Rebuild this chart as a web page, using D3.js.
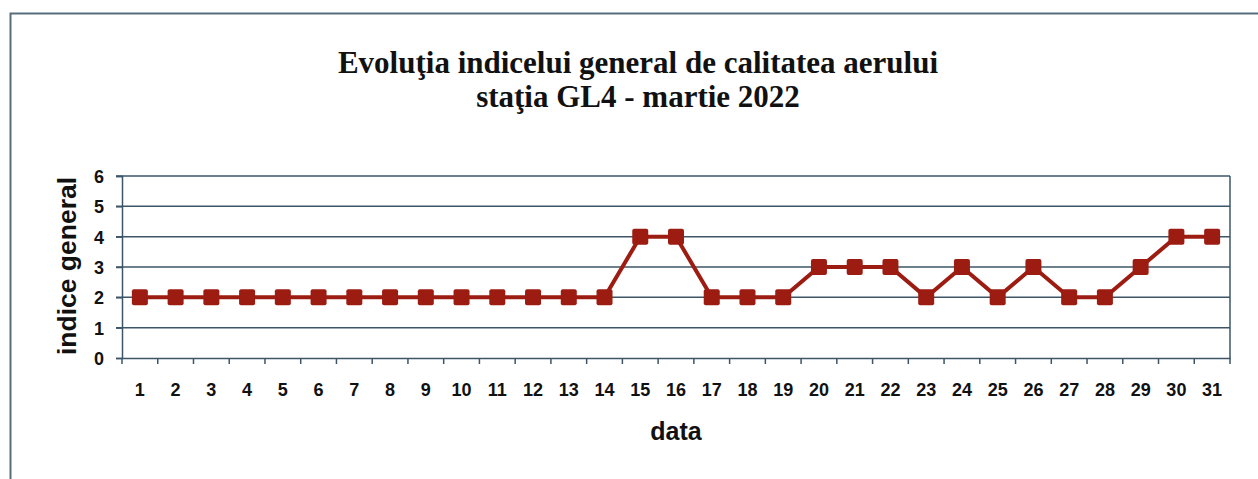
<!DOCTYPE html>
<html>
<head>
<meta charset="utf-8">
<script src="https://cdn.jsdelivr.net/npm/d3@7"></script>
<style>
  body { margin: 0; background: #fff; }
  svg { display: block; }
</style>
</head>
<body>
<svg id="chart"></svg>
<script>
// date ale graficului
var days = d3.range(1, 32).map(String);
var indice = [2, 2, 2, 2, 2, 2, 2, 2, 2, 2, 2, 2, 2, 2, 4, 4, 2, 2, 2, 3, 3, 3, 2, 3, 2, 3, 2, 2, 3, 4, 4];
var yTicks = [0, 1, 2, 3, 4, 5, 6];

var width = 1258, height = 479;
var margin = {left: 122, right: 28, top: 176, bottom: 121};
var gridColor = "#3c5668";

var svg = d3.select('#chart')
    .attr("width", width)
    .attr("height", height);

// cadru exterior
svg.append('path')
    .attr("d", "M10.5," + height + "V13.5H" + width)
    .attr("fill", "none")
    .attr("stroke", "#566d7c")
    .attr("stroke-width", 2);

var x = d3.scaleBand()
    .domain(days)
    .range([margin.left, width - margin.right]);

var y = d3.scaleLinear()
    .domain([0, 6])
    .range([height - margin.bottom, margin.top]);

// titlu
var title = svg.append('text')
    .attr("text-anchor", "middle")
    .attr("font-family", "'Liberation Serif', 'Times New Roman', serif")
    .attr("font-weight", "bold")
    .attr("font-size", 31)
    .attr("fill", "#111");
title.append('tspan').attr("x", 638).attr("y", 73)
    .text("Evoluţia indicelui general de calitatea aerului");
title.append('tspan').attr("x", 638).attr("y", 107)
    .text("staţia GL4 - martie 2022");

// linii de grila
svg.append('g')
    .selectAll('line')
    .data(yTicks.filter(function(d) { return d > 0; }))
    .enter()
    .append('line')
    .attr("x1", margin.left - 6)
    .attr("x2", width - margin.right)
    .attr("y1", function(d) { return y(d); })
    .attr("y2", function(d) { return y(d); })
    .attr("stroke", gridColor)
    .attr("stroke-width", 1.5);

// latura dreapta a zonei graficului
svg.append('line')
    .attr("x1", width - margin.right).attr("x2", width - margin.right)
    .attr("y1", y(6)).attr("y2", y(0))
    .attr("stroke", gridColor)
    .attr("stroke-width", 1.5);

// axa Y
var yAxis = svg.append('g')
    .attr("transform", "translate(" + margin.left + ",0)")
    .call(d3.axisLeft(y).tickValues(yTicks).tickFormat(d3.format("d")).tickSize(6).tickPadding(12));

// axa X: gradatii la marginile categoriilor
var xAxis = svg.append('g')
    .attr("transform", "translate(0," + y(0) + ")")
    .call(d3.axisBottom(x).tickSize(0).tickPadding(25));

xAxis.selectAll('.xmark')
    .data(days)
    .enter()
    .append('line')
    .attr("class", "xmark")
    .attr("x1", function(d) { return x(d) + x.bandwidth(); })
    .attr("x2", function(d) { return x(d) + x.bandwidth(); })
    .attr("y1", 0)
    .attr("y2", 6);

xAxis.append('line')
    .attr("class", "xmark")
    .attr("x1", margin.left).attr("x2", margin.left)
    .attr("y1", 0).attr("y2", 6);

[xAxis, yAxis].forEach(function(ax) {
    ax.select('.domain').attr("stroke", gridColor).attr("stroke-width", 1.5);
    ax.selectAll('line').attr("stroke", gridColor).attr("stroke-width", 1.5);
    ax.selectAll('text')
        .attr("font-family", "'Liberation Sans', Arial, sans-serif")
        .attr("font-weight", "bold")
        .attr("font-size", 18)
        .attr("fill", "#111");
});
yAxis.selectAll('text').attr("dy", "0.36em");

// titluri axe
svg.append('text')
    .attr("x", 676)
    .attr("y", 440)
    .attr("text-anchor", "middle")
    .attr("font-family", "'Liberation Sans', Arial, sans-serif")
    .attr("font-weight", "bold")
    .attr("font-size", 25)
    .attr("fill", "#111")
    .text("data");

svg.append('text')
    .attr("transform", "translate(76,266) rotate(-90)")
    .attr("text-anchor", "middle")
    .attr("font-family", "'Liberation Sans', Arial, sans-serif")
    .attr("font-weight", "bold")
    .attr("font-size", 26.5)
    .attr("fill", "#111")
    .text("indice general");

// seria
var cx = function(d, i) { return x(days[i]) + x.bandwidth() / 2; };
var line = d3.line()
    .x(cx)
    .y(function(d) { return y(d); });

svg.append('path')
    .datum(indice)
    .attr("d", line)
    .attr("fill", "none")
    .attr("stroke", "#9d1c12")
    .attr("stroke-width", 4);

var ms = 16;
svg.selectAll('.marker')
    .data(indice)
    .enter()
    .append('rect')
    .attr("class", "marker")
    .attr("x", function(d, i) { return cx(d, i) - ms / 2; })
    .attr("y", function(d) { return y(d) - ms / 2; })
    .attr("width", ms)
    .attr("height", ms)
    .attr("rx", 2)
    .attr("fill", "#9d1c12");
</script>
</body>
</html>
